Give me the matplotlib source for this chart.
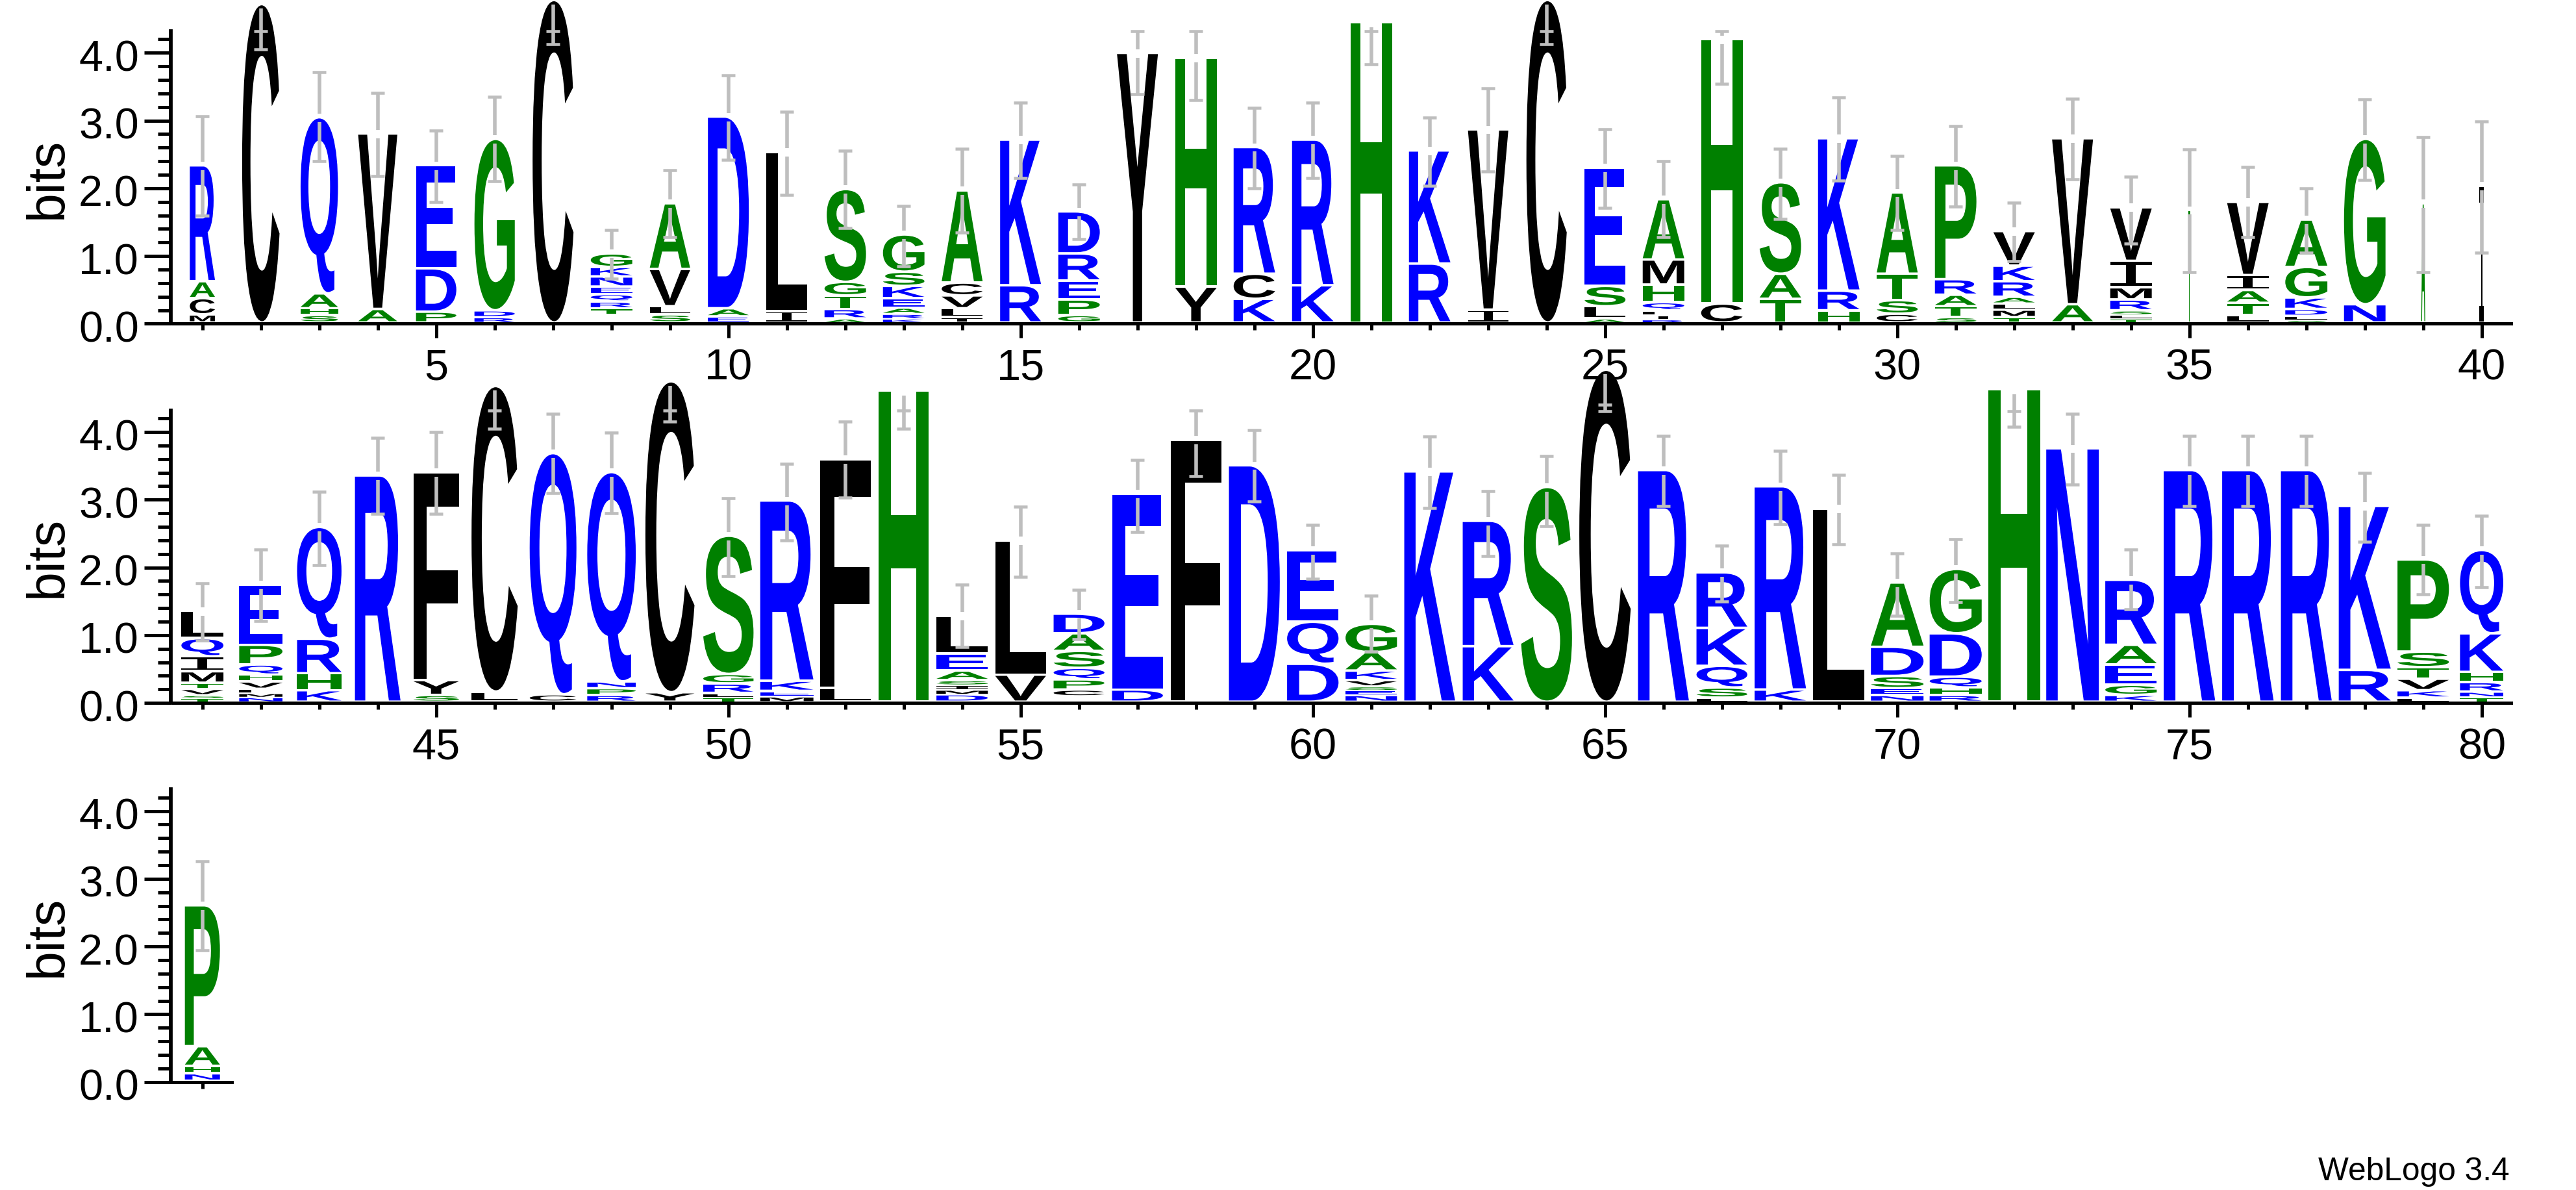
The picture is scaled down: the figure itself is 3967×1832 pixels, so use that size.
import matplotlib

matplotlib.use('Agg')
import matplotlib.pyplot as plt
from matplotlib.font_manager import FontProperties
from matplotlib.patches import PathPatch
from matplotlib.textpath import TextPath
from matplotlib.ticker import MultipleLocator
from matplotlib.transforms import Affine2D, ScaledTranslation

plt.rcParams['font.family'] = ['Liberation Sans', 'DejaVu Sans']

# letters of each position, top of the stack first (' ' = nothing drawn)
letters = [
    'RACM', 'C', 'QAHS', 'VA', 'EDP', 'GDR', 'C', 'GKNEQRT ', 'AVLS', 'DAE',
    'LI', 'SGTRA', 'GSKEARK', 'ACVLI', 'KR', 'DREPG', 'Y', 'HY', 'RCK', 'RK',
    'H', 'KR', 'VI', 'C', 'ESLA', 'AMHQLIR', 'HC', 'SAT', 'KRH', 'ATSC',
    'PRATS', 'VKRALMT', 'VA', 'VIMRSLT', 'T', 'VIATL', 'AGKDLS', 'GN', 'A', 'I',
    'LQIMTVST', 'EPQHVLMN', 'QRHK', 'R', 'FYS', 'CL', 'QC', 'QNPR', 'CY', 'SGRLT',
    'RKEM', 'FL', 'H', 'LEASIMD', 'LV', 'DASQPC ', 'ED', 'F', 'D', 'EQD',
    'GAKVSEN', 'K', 'RK', 'S', 'C', 'R', 'RKQSL', 'RK', 'L', 'ADSEN',
    'GDQHR', 'H', 'N', 'RAEGK', 'R', 'R', 'R', 'KR', 'PSTVKL', 'QKHRNT',
    'PAHN',
]

# height in bits of each letter above
heights = [
    [1.71, .25, .24, .12], [4.70], [2.60, .22, .10, .11], [2.59, .20], [1.52, .64, .16],
    [2.53, .10, .08], [4.76], [.20, .14, .15, .11, .11, .10, .10, .11], [.97, .55, .12, .12], [2.83, .12, .09],
    [2.35, .17], [1.37, .20, .20, .14, .06], [.55, .21, .18, .14, .09, .07, .06], [1.36, .19, .19, .13, .08], [2.15, .55],
    [.62, .40, .28, .23, .11], [3.98], [3.38, .53], [1.87, .37, .35], [2.15, .55],
    [4.43], [1.67, .87], [2.66, .19], [4.76], [1.75, .30, .18, .06],
    [.89, .37, .26, .12, .07, .06, .05], [3.90, .28], [1.35, .37, .35], [2.25, .29, .18], [1.20, .39, .20, .13],
    [1.68, .23, .17, .16, .08], [.51, .23, .23, .10, .09, .11, .08], [2.45, .27], [.79, .39, .18, .16, .06, .06, .06], [1.66],
    [1.08, .22, .19, .18, .11], [.70, .45, .17, .10, .06, .04], [2.44, .27], [1.76], [2.02],
    [.40, .27, .22, .17, .09, .09, .04, .06], [.89, .29, .15, .10, .11, .06, .06, .07], [1.65, .51, .25, .17], [3.34], [3.07, .22, .10],
    [4.51, .15], [3.56, .11], [3.09, .10, .10, .10], [4.59, .14], [2.04, .14, .14, .06, .07],
    [2.66, .15, .08, .08], [3.38, .20], [4.59], [.56, .25, .14, .07, .07, .07, .11], [1.98, .40],
    [.29, .26, .25, .17, .15, .10, .08], [2.89, .18], [3.87], [3.49], [1.06, .62, .56],
    [.42, .27, .14, .09, .06, .07, .10], [3.40], [1.85, .82], [3.17], [4.90],
    [3.42], [.82, .56, .32, .15, .06], [3.00, .18], [2.85], [.95, .43, .18, .10, .10],
    [.95, .64, .16, .11, .10], [4.61], [3.74], [.96, .29, .30, .15, .10], [3.42],
    [3.42], [3.42], [2.42, .47], [1.36, .23, .17, .17, .11, .06], [1.23, .57, .15, .14, .08, .07],
    [2.08, .29, .11, .11],
]

# width of each stack as a share of one column
stack_width = [
    .43, .64, .64, .67, .69, .69, .70, .71, .69, .70,
    .70, .71, .71, .70, .70, .71, .70, .71, .71, .71,
    .71, .71, .69, .69, .70, .71, .71, .71, .71, .70,
    .71, .71, .70, .71, .03, .71, .72, .71, .07, .08,
    .72, .74, .76, .78, .78, .79, .80, .83, .84, .86,
    .91, .87, .86, .88, .87, .87, .87, .87, .87, .88,
    .88, .87, .87, .87, .88, .87, .87, .88, .88, .90,
    .89, .89, .90, .88, .88, .88, .87, .89, .88, .74,
    .60,
]

err_low = [
    1.60, 4.05, 2.40, 2.18, 1.80, 2.10, 4.13, .67, 1.28, 2.42,
    1.90, 1.41, .85, 1.35, 2.15, 1.25, 3.39, 3.30, 2.00, 2.15,
    3.83, 2.04, 2.25, 4.13, 1.71, 1.28, 3.54, 1.55, 2.11, 1.38,
    1.73, .92, 2.13, 1.18, .76, 1.28, 1.05, 2.12, .76, 1.05,
    .92, 1.21, 2.03, 2.79, 2.79, 4.05, 3.10, 2.80, 4.15, 1.87,
    2.40, 3.03, 4.05, .83, 1.86, .94, 2.52, 3.35, 2.97, 1.83,
    .76, 2.88, 2.17, 2.61, 4.31, 2.91, 1.50, 2.64, 2.34, 1.29,
    1.49, 4.08, 3.22, 1.38, 2.91, 2.91, 2.91, 2.38, 1.60, 1.71,
    1.94,
]

err_high = [
    3.06, 4.32, 3.71, 3.41, 2.85, 3.35, 4.32, 1.38, 2.27, 3.67,
    3.13, 2.55, 1.74, 2.58, 3.26, 2.06, 4.32, 4.32, 3.19, 3.26,
    4.32, 3.04, 3.47, 4.32, 2.87, 2.40, 4.32, 2.58, 3.34, 2.48,
    2.92, 1.79, 3.32, 2.17, 2.57, 2.31, 2.00, 3.31, 2.76, 2.99,
    1.77, 2.26, 3.12, 3.91, 4.00, 4.32, 4.27, 3.99, 4.32, 3.02,
    3.53, 4.15, 4.32, 1.75, 2.90, 1.67, 3.59, 4.32, 4.03, 2.63,
    1.58, 3.93, 3.13, 3.65, 4.40, 3.94, 2.32, 3.72, 3.37, 2.21,
    2.42, 4.31, 4.27, 2.26, 3.94, 3.94, 3.94, 3.40, 2.63, 2.76,
    3.26,
]

rows = [(1, 40), (41, 80), (81, 81)]
row_base_px = [499.4, 1083.2, 1666.7]

letter_colors = {}
for aa in 'RKDENQ':
    letter_colors[aa] = '#0000ff'
for aa in 'GSTAPH':
    letter_colors[aa] = '#008000'
for aa in 'CVLIMFYW':
    letter_colors[aa] = '#000000'

FIG_W = 3967
FIG_H = 1833
COLUMN_PX = 90.0
BITS_PX = 104.3
YMAX = 4.32
LETTER_GAP = 0.037
ERR_COLOR = '#bebebe'

bold_font = FontProperties(family='Liberation Sans', weight='bold')
serif_i_font = FontProperties(family='Liberation Mono')


def draw_letter(ax, aa, x, y, width, height):
    font = serif_i_font if aa == 'I' else bold_font
    path = TextPath((0, 0), aa, size=1, prop=font)
    box = path.get_extents()
    place = (
        Affine2D()
        .translate(-box.x0, -box.y0)
        .scale(width / box.width, height / box.height)
        .translate(x - width / 2, y)
    )
    patch = PathPatch(
        path,
        transform=place + ax.transData,
        facecolor=letter_colors[aa],
        linewidth=0,
        clip_on=False,
        zorder=2
    )
    ax.add_patch(patch)


def draw_stack(ax, pos):
    i = pos - 1
    y = 0.0
    for aa, h in zip(reversed(letters[i]), reversed(heights[i])):
        if aa != ' ':
            draw_letter(ax, aa, pos, y + min(LETTER_GAP, h * 0.35), stack_width[i], h - min(LETTER_GAP, h * 0.35))
        y += h
    return y


def draw_error_bar(ax, pos, top):
    lo = err_low[pos - 1]
    hi = err_high[pos - 1]
    line_style = dict(colors=ERR_COLOR, linewidth=4.0, zorder=3, clip_on=False)
    cap_style = dict(colors=ERR_COLOR, linewidth=3.3, zorder=3, clip_on=False)

    # the bar breaks where it crosses the top of the stack
    ax.vlines(pos, lo, top - 0.05, **line_style)
    if top + 0.073 < hi:
        ax.vlines(pos, top + 0.073, hi, **line_style)
    ax.hlines([lo, hi], pos - 0.117, pos + 0.117, **cap_style)


def draw_row(first, last, base_px):
    left_px = 311.7 - COLUMN_PX / 2
    width_px = (last - first + 1) * COLUMN_PX
    height_px = YMAX * BITS_PX
    ax = fig.add_axes([
        left_px / FIG_W,
        1 - base_px / FIG_H,
        width_px / FIG_W,
        height_px / FIG_H
    ])
    ax.set_xlim(first - 0.5, last + 0.5)
    ax.set_ylim(0, YMAX)
    ax.patch.set_alpha(0)

    for side in ['top', 'right']:
        ax.spines[side].set_visible(False)
    ax.spines['left'].set_position(('outward', 3.0))
    ax.spines['left'].set_linewidth(4.2)
    ax.spines['bottom'].set_linewidth(3.6)

    ax.xaxis.set_major_locator(MultipleLocator(5))
    ax.xaxis.set_minor_locator(MultipleLocator(1))
    ax.xaxis.set_major_formatter(lambda v, _: f'{v:.0f}')
    ax.yaxis.set_major_locator(MultipleLocator(1))
    ax.yaxis.set_minor_locator(MultipleLocator(0.2))
    ax.yaxis.set_major_formatter(lambda v, _: f'{v:.1f}')

    ax.tick_params(axis='x', which='major', length=16, width=3.6, labelsize=48, pad=11)
    ax.tick_params(axis='x', which='minor', length=7.5, width=3.6)
    ax.tick_params(axis='y', which='major', length=29.5, width=3.6, labelsize=48, pad=5.5)
    ax.tick_params(axis='y', which='minor', length=14.5, width=3.6)

    # digits sit a little below their ticks
    nudge = ScaledTranslation(0, -3 / 100, fig.dpi_scale_trans)
    for label in ax.get_yticklabels():
        label.set_transform(label.get_transform() + nudge)

    for pos in range(first, last + 1):
        top = draw_stack(ax, pos)
        draw_error_bar(ax, pos, top)

    fig.text(
        112 / FIG_W,
        1 - (base_px - height_px / 2) / FIG_H,
        'bits',
        rotation=90,
        fontsize=58,
        ha='right',
        va='center'
    )


fig = plt.figure(figsize=(FIG_W / 100, FIG_H / 100), dpi=100, facecolor='white')

for (first, last), base_px in zip(rows, row_base_px):
    draw_row(first, last, base_px)

fig.text(3865 / FIG_W, 1 - 1816.7 / FIG_H, 'WebLogo 3.4', fontsize=35.7, ha='right', va='baseline')

plt.savefig('out.png', dpi=100)
plt.close()
